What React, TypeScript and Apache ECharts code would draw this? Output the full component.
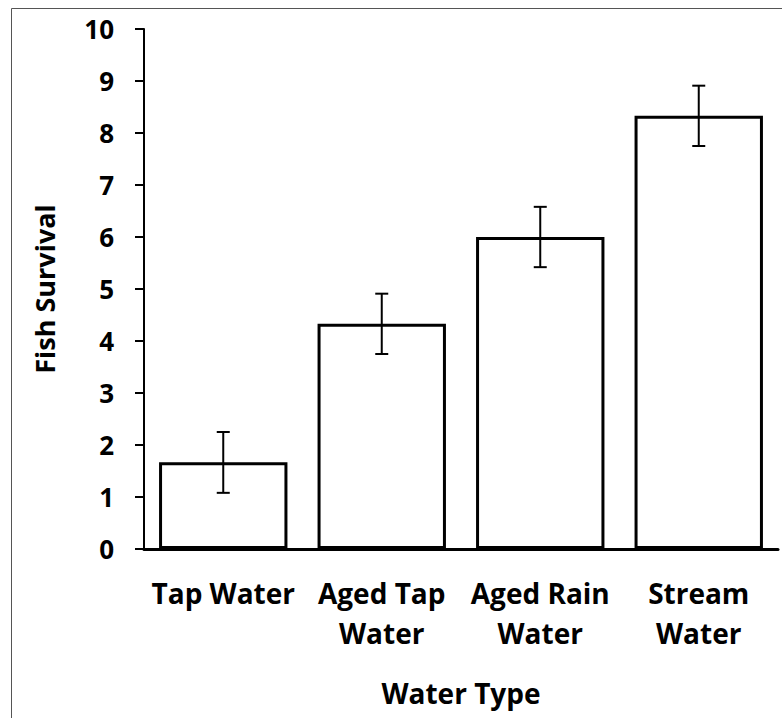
import React, { useEffect, useRef } from "react";
import * as echarts from "echarts";

const categories = ["Tap Water", "Aged Tap\nWater", "Aged Rain\nWater", "Stream\nWater"];
const survival = [1.67, 4.33, 6.0, 8.33];
const errorLow = [1.08, 3.75, 5.42, 7.75];
const errorHigh = [2.25, 4.91, 6.58, 8.91];
const yTicks = [0, 10, 1];

const FONT = "'Open Sans', Lato, sans-serif";

export default function App() {
  const ref = useRef<HTMLDivElement>(null);
  useEffect(() => {
    document.body.style.margin = "0";
    const chart = echarts.init(ref.current!, undefined, { renderer: "svg" });
    chart.setOption({
      animation: false,
      backgroundColor: "#ffffff",
      textStyle: { fontFamily: FONT },
      grid: { left: 144, right: 4, top: 29, bottom: 169, containLabel: false },
      graphic: [
        {
          type: "rect",
          shape: { x: 11.5, y: 8.5, width: 820, height: 760 },
          style: { fill: "none", stroke: "#555", lineWidth: 1 },
          silent: true,
          z: -10,
        },
      ],
      xAxis: {
        type: "category",
        data: categories,
        name: "Water Type",
        nameLocation: "middle",
        nameGap: 130,
        nameTextStyle: { fontFamily: FONT, fontWeight: "bold", fontSize: 28, color: "#000" },
        axisLine: { lineStyle: { color: "#000", width: 3 } },
        axisTick: { show: false },
        axisLabel: {
          margin: 24,
          fontFamily: FONT,
          fontWeight: "bold",
          fontSize: 28,
          lineHeight: 40,
          color: "#000",
          interval: 0,
        },
      },
      yAxis: {
        type: "value",
        min: yTicks[0],
        max: yTicks[1],
        interval: yTicks[2],
        name: "Fish Survival",
        nameLocation: "middle",
        nameGap: 86,
        nameTextStyle: { fontFamily: FONT, fontWeight: "bold", fontSize: 27, color: "#000" },
        axisLine: { show: true, lineStyle: { color: "#000", width: 2 } },
        axisTick: { show: true, length: 9, lineStyle: { color: "#000", width: 2 } },
        splitLine: { show: false },
        axisLabel: {
          margin: 30,
          fontFamily: FONT,
          fontWeight: "bold",
          fontSize: 26,
          color: "#000",
        },
      },
      series: [
        {
          type: "bar",
          data: survival,
          barCategoryGap: "19%",
          itemStyle: { color: "#ffffff", borderColor: "#000", borderWidth: 3 },
          z: 2,
        },
        {
          type: "custom",
          data: survival.map((_, i) => [i, errorLow[i], errorHigh[i]]),
          z: 5,
          renderItem: (params: any, api: any) => {
            const i = api.value(0);
            const lo = api.coord([i, api.value(1)]);
            const hi = api.coord([i, api.value(2)]);
            const half = 6.5;
            const style = { stroke: "#000", lineWidth: 2 };
            return {
              type: "group",
              children: [
                { type: "line", shape: { x1: lo[0], y1: lo[1], x2: hi[0], y2: hi[1] }, style },
                { type: "line", shape: { x1: lo[0] - half, y1: lo[1], x2: lo[0] + half, y2: lo[1] }, style },
                { type: "line", shape: { x1: hi[0] - half, y1: hi[1], x2: hi[0] + half, y2: hi[1] }, style },
              ],
            };
          },
        },
      ],
    });
    return () => chart.dispose();
  }, []);
  return <div ref={ref} style={{ width: 782, height: 718 }} />;
}
